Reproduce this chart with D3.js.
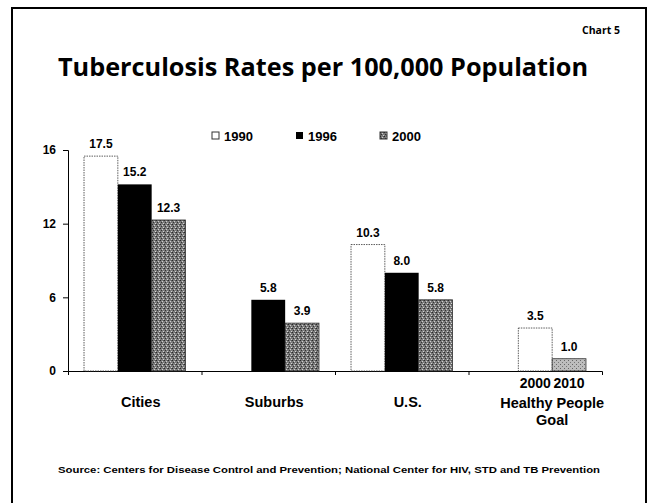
<!DOCTYPE html>
<html>
<head>
<meta charset="utf-8">
<title>Tuberculosis Rates</title>
<style>
  body { margin: 0; background: #fff; }
  svg text { font-family: "Liberation Sans", Arial, sans-serif; fill: #000; }
  .title, .chartno { font-family: "Open Sans", sans-serif; font-weight: 700; }
</style>
</head>
<body>
<script src="https://cdn.jsdelivr.net/npm/d3@7"></script>
<script>
var categories = ["Cities", "Suburbs", "U.S.", "Healthy People Goal"];
var series = ["1990", "1996", "2000"];
var v1990 = [17.5, null, 10.3, null];
var v1996 = [15.2, 5.8, 8.0, null];
var v2000 = [12.3, 3.9, 5.8, null];
var goalLabels = ["2000", "2010"];
var goalValues = [3.5, 1.0];
var yTickValues = [0, 6, 12, 18];
var yTickLabels = ["0", "6", "12", "16"];

var width = 649, height = 503;
var svg = d3.select("body").append("svg")
    .attr("width", width)
    .attr("height", height);

var defs = svg.append("defs");
// speckled grey for 2000
var p1 = defs.append("pattern").attr("id", "speck").attr("width", 4).attr("height", 4)
    .attr("patternUnits", "userSpaceOnUse");
p1.append("rect").attr("width", 4).attr("height", 4).attr("fill", "#7a7a7a");
p1.append("rect").attr("x", 0).attr("y", 0).attr("width", 1).attr("height", 1).attr("fill", "#2a2a2a");
p1.append("rect").attr("x", 2).attr("y", 1).attr("width", 1).attr("height", 1).attr("fill", "#cfcfcf");
p1.append("rect").attr("x", 1).attr("y", 2).attr("width", 1).attr("height", 1).attr("fill", "#333");
p1.append("rect").attr("x", 3).attr("y", 3).attr("width", 1).attr("height", 1).attr("fill", "#d4d4d4");
p1.append("rect").attr("x", 3).attr("y", 0).attr("width", 1).attr("height", 1).attr("fill", "#555");
// lighter hatch for 2010 goal
var p2 = defs.append("pattern").attr("id", "light").attr("width", 4).attr("height", 4)
    .attr("patternUnits", "userSpaceOnUse");
p2.append("rect").attr("width", 4).attr("height", 4).attr("fill", "#bdbdbd");
p2.append("rect").attr("x", 0).attr("y", 0).attr("width", 1).attr("height", 1).attr("fill", "#666");
p2.append("rect").attr("x", 2).attr("y", 2).attr("width", 1).attr("height", 1).attr("fill", "#777");

var fills = { "1990": "#fff", "1996": "#000", "2000": "url(#speck)" };
var values = { "1990": v1990, "1996": v1996, "2000": v2000 };

// frame
svg.append("rect").attr("x", 12).attr("y", 8).attr("width", 634).attr("height", 510)
    .attr("fill", "none").attr("stroke", "#000").attr("stroke-width", 2);

svg.append("text").attr("class", "chartno")
    .attr("x", 582).attr("y", 34).attr("font-size", 10.5)
    .text("Chart 5");

var title = svg.append("text").attr("class", "title")
    .attr("x", 58).attr("y", 76).attr("font-size", 25)
    .text("Tuberculosis Rates per 100,000 Population");
title.attr("textLength", 530).attr("lengthAdjust", "spacingAndGlyphs");

var x0 = d3.scaleBand().domain(categories).range([68, 602])
    .paddingInner(0.24).paddingOuter(0.12);
var x1 = d3.scaleBand().domain(series).range([0, x0.bandwidth()]);
var y = d3.scaleLinear().domain([0, 18]).range([371, 150]);

// axes
var yAxis = svg.append("g").attr("transform", "translate(68,0)")
    .call(d3.axisLeft(y).tickValues(yTickValues).tickSize(5).tickPadding(7)
        .tickFormat(function (d, i) { return yTickLabels[i]; }));
yAxis.selectAll("text").attr("font-size", 12).attr("font-weight", "bold");

var bounds = d3.range(1, categories.length).map(function (i) {
    return x0(categories[i]) - x0.step() * x0.paddingInner() / 2;
});
var xAxis = svg.append("g").attr("transform", "translate(0,371)")
    .call(d3.axisBottom(d3.scaleLinear().domain([68, 602]).range([68, 602]))
        .tickValues(bounds).tickSize(4).tickFormat(""));
svg.selectAll(".domain").attr("stroke-width", 1);

// bars
var rows = [];
categories.forEach(function (c, ci) {
    series.forEach(function (s) {
        var v = values[s][ci];
        if (v != null) rows.push({ cat: c, slot: s, value: v, fill: fills[s] });
    });
});
var last = categories[categories.length - 1];
goalValues.forEach(function (v, i) {
    rows.push({ cat: last, slot: series[i + 1], value: v, fill: i === 0 ? "#fff" : "url(#light)", goal: goalLabels[i] });
});

var bars = svg.append("g").selectAll("g").data(rows).enter().append("g");
bars.append("rect")
    .attr("x", function (d) { return x0(d.cat) + x1(d.slot); })
    .attr("y", function (d) { return y(d.value); })
    .attr("width", x1.bandwidth())
    .attr("height", function (d) { return y(0) - y(d.value); })
    .attr("fill", function (d) { return d.fill; })
    .attr("stroke", function (d) { return d.fill === "#000" ? "none" : "#333"; })
    .attr("stroke-width", 0.8)
    .attr("stroke-dasharray", function (d) { return d.fill === "#fff" ? "1.5,1" : null; });
bars.append("text")
    .attr("x", function (d) { return x0(d.cat) + x1(d.slot) + x1.bandwidth() / 2; })
    .attr("y", function (d) { return y(d.value) - 8; })
    .attr("text-anchor", "middle")
    .attr("font-size", 12).attr("font-weight", "bold")
    .text(function (d) { return d.value.toFixed(1); });
bars.filter(function (d) { return d.goal; }).append("text")
    .attr("x", function (d) { return x0(d.cat) + x1(d.slot) + x1.bandwidth() / 2; })
    .attr("y", 388)
    .attr("text-anchor", "middle")
    .attr("font-size", 14).attr("font-weight", "bold")
    .text(function (d) { return d.goal; });

// category labels
var catG = svg.append("g");
categories.forEach(function (c, i) {
    if (c === last) {
        var cx = x0(c) + x1("2000");
        catG.append("text").attr("x", cx).attr("y", 408).attr("text-anchor", "middle")
            .attr("font-size", 14.5).attr("font-weight", "bold").text("Healthy People");
        catG.append("text").attr("x", cx).attr("y", 425).attr("text-anchor", "middle")
            .attr("font-size", 14.5).attr("font-weight", "bold").text("Goal");
    } else {
        catG.append("text").attr("x", x0(c) + x0.bandwidth() / 2 + 6).attr("y", 407)
            .attr("text-anchor", "middle")
            .attr("font-size", 14.5).attr("font-weight", "bold").text(c);
    }
});

// legend
var legX = [212, 296, 380];
var leg = svg.append("g").selectAll("g").data(series).enter().append("g")
    .attr("transform", function (d, i) { return "translate(" + legX[i] + ",136)"; });
leg.append("rect").attr("x", 0).attr("y", -4).attr("width", 7).attr("height", 7)
    .attr("fill", function (d) { return fills[d]; })
    .attr("stroke", function (d) { return d === "1996" ? "none" : "#333"; })
    .attr("stroke-width", 1);
leg.append("text").attr("x", 12).attr("y", 5)
    .attr("font-size", 13).attr("font-weight", "bold")
    .text(function (d) { return d; });

svg.append("text").attr("x", 58).attr("y", 473)
    .attr("font-size", 9).attr("font-weight", "bold")
    .attr("textLength", 542).attr("lengthAdjust", "spacingAndGlyphs")
    .text("Source: Centers for Disease Control and Prevention; National Center for HIV, STD and TB Prevention");
</script>
</body>
</html>
